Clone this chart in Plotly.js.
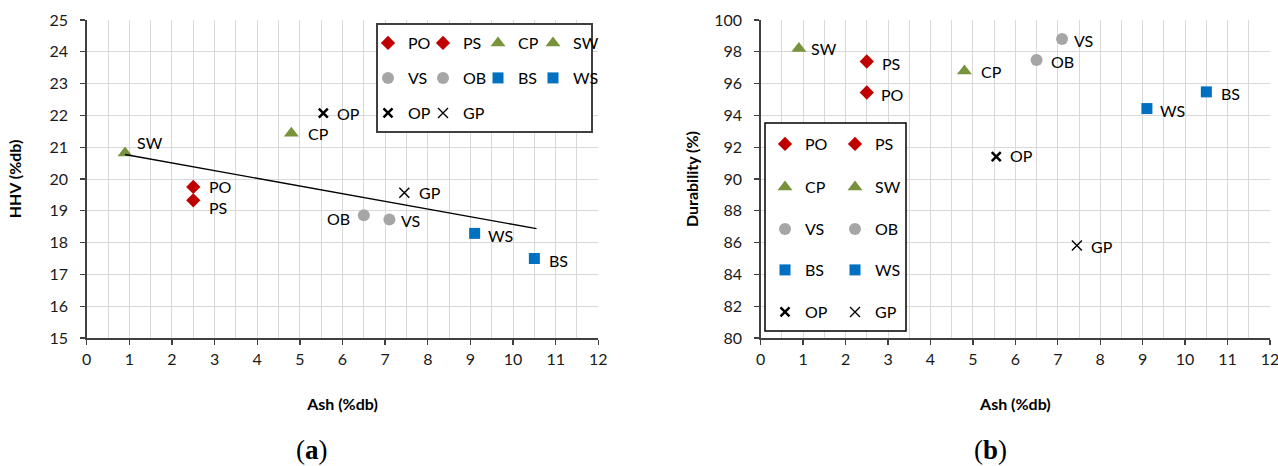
<!DOCTYPE html>
<html>
<head>
<meta charset="utf-8">
<script src="https://cdn.plot.ly/plotly-3.0.1.min.js"></script>
<style>html,body{margin:0;padding:0;background:#fff;}#chart{width:1278px;height:466px;}</style>
</head>
<body>
<div id="chart"></div>
<script>
// ---- data ----
const samples = ['PO', 'PS', 'CP', 'SW', 'VS', 'OB', 'BS', 'WS', 'OP', 'GP'];
const ashPct = [2.5, 2.5, 4.8, 0.9, 7.1, 6.5, 10.5, 9.1, 5.55, 7.45];
const hhvPct = [19.75, 19.33, 21.44, 20.82, 18.73, 18.86, 17.5, 18.29, 22.07, 19.57];
const durabilityPct = [95.44, 97.39, 96.8, 98.21, 98.8, 97.48, 95.48, 94.43, 91.4, 85.82];
const trendAsh = [0.9, 10.55];
const trendHHV = [20.77, 18.44];
const xTickVals = [0, 1, 2, 3, 4, 5, 6, 7, 8, 9, 10, 11, 12];

// ---- styles ----
const W = 1278, H = 466;
const FONT = 'Lato, "Open Sans", sans-serif';
const markerStyle = {
  PO: {symbol: 'diamond', color: '#C00000', size: 11},
  PS: {symbol: 'diamond', color: '#C00000', size: 11},
  CP: {symbol: 'triangle-up', color: '#77933C', size: 13},
  SW: {symbol: 'triangle-up', color: '#77933C', size: 13},
  VS: {symbol: 'circle', color: '#A6A6A6', size: 12},
  OB: {symbol: 'circle', color: '#A6A6A6', size: 12},
  BS: {symbol: 'square', color: '#0070C0', size: 11},
  WS: {symbol: 'square', color: '#0070C0', size: 11},
  OP: {symbol: 'x-thin', color: '#000', size: 9, line: {color: '#000', width: 2.5}},
  GP: {symbol: 'x-thin', color: '#000', size: 10, line: {color: '#000', width: 1.4}}
};
// legend rows (a): 4 per row; (b): 2 per row
const legendA = ['legend', 'legend', 'legend', 'legend', 'legend2', 'legend2', 'legend2', 'legend2', 'legend3', 'legend3'];
const legendB = ['legend4', 'legend4', 'legend5', 'legend5', 'legend6', 'legend6', 'legend7', 'legend7', 'legend8', 'legend8'];
const lastInRowA = {SW: 1, WS: 1, GP: 1};
const lastInRowB = {PS: 1, SW: 1, OB: 1, WS: 1, GP: 1};
// label offsets in px [dx, dy(down)], anchor
const labA = {PO: [14, 0, 'left'], PS: [14, 7, 'left'], CP: [15, 0, 'left'], SW: [10, -10, 'left'], VS: [10, 1, 'left'],
  OB: [-12, 3, 'right'], BS: [13, 2, 'left'], WS: [11, 2, 'left'], OP: [12, 0, 'left'], GP: [13, 0, 'left']};
const labB = {PO: [12, 2, 'left'], PS: [13, 2, 'left'], CP: [15, 1, 'left'], SW: [10, 0, 'left'], VS: [10, 1, 'left'],
  OB: [12, 1, 'left'], BS: [13, 2, 'left'], WS: [11, 2, 'left'], OP: [12, -1, 'left'], GP: [12, 1, 'left']};

const traces = [];
samples.forEach((s, i) => {
  const t = {
    type: 'scatter', mode: 'markers', name: s, x: [ashPct[i]], y: [hhvPct[i]],
    xaxis: 'x', yaxis: 'y', legend: legendA[i], marker: markerStyle[s], cliponaxis: false
  };
  if (lastInRowA[s]) t.legendwidth = 34;
  traces.push(t);
});
traces.push({
  type: 'scatter', mode: 'lines', x: trendAsh, y: trendHHV, xaxis: 'x', yaxis: 'y',
  line: {color: '#000', width: 1.3}, showlegend: false, hoverinfo: 'skip'
});
samples.forEach((s, i) => {
  const t = {
    type: 'scatter', mode: 'markers', name: s, x: [ashPct[i]], y: [durabilityPct[i]],
    xaxis: 'x2', yaxis: 'y2', legend: legendB[i], marker: markerStyle[s], cliponaxis: false
  };
  if (lastInRowB[s]) t.legendwidth = 34;
  traces.push(t);
});

const annotations = [];
samples.forEach((s, i) => {
  const a = labA[s];
  annotations.push({x: ashPct[i], y: hhvPct[i], xref: 'x', yref: 'y', text: s, showarrow: false,
    xanchor: a[2], yanchor: 'middle', xshift: a[0], yshift: -a[1], font: {family: FONT, size: 16, color: '#000'}});
  const b = labB[s];
  annotations.push({x: ashPct[i], y: durabilityPct[i], xref: 'x2', yref: 'y2', text: s, showarrow: false,
    xanchor: b[2], yanchor: 'middle', xshift: b[0], yshift: -b[1], font: {family: FONT, size: 16, color: '#000'}});
});
annotations.push({x: 312 / W, y: 1 - 450 / H, xref: 'paper', yref: 'paper', text: '(<b>a</b>)', showarrow: false,
  xanchor: 'center', yanchor: 'middle', font: {family: '"Liberation Serif", serif', size: 27, color: '#000'}});
annotations.push({x: 990 / W, y: 1 - 450 / H, xref: 'paper', yref: 'paper', text: '(<b>b</b>)', showarrow: false,
  xanchor: 'center', yanchor: 'middle', font: {family: '"Liberation Serif", serif', size: 27, color: '#000'}});

// plot-area pixel geometry
const PA = {l: 86.7, r: 598.3, t: 20, b: 338};
const PB = {l: 760.7, r: 1270, t: 20, b: 338};

const gridCol = '#D9D9D9';
function xAxis(p) {
  return {
    domain: [p.l / W, p.r / W], range: [0, 12], tickvals: xTickVals, showgrid: true, gridcolor: gridCol, gridwidth: 1,
    minor: {dtick: 0.5, tick0: 0, showgrid: true, gridcolor: gridCol, gridwidth: 1, ticks: ''},
    ticks: 'outside', ticklen: 5, tickwidth: 1.3, tickcolor: '#404040', ticklabelstandoff: 1,
    ticklabeloverflow: 'allow',
    showline: true, linecolor: '#404040', linewidth: 1.5, zeroline: false, fixedrange: true,
    tickfont: {family: FONT, size: 16, color: '#1a1a1a'},
    title: {text: 'Ash (%db)', standoff: 32, font: {family: FONT, size: 16, color: '#000', weight: 'bold'}}
  };
}
function yAxis(p, range, dtick, title, standoff, anchor) {
  return {
    domain: [1 - p.b / H, 1 - p.t / H], range: range, dtick: dtick, tick0: range[0], anchor: anchor,
    showgrid: true, gridcolor: gridCol, gridwidth: 1,
    ticks: 'outside', ticklen: 5, tickwidth: 1.3, tickcolor: '#404040', ticklabelstandoff: 9,
    ticklabeloverflow: 'allow',
    showline: true, linecolor: '#404040', linewidth: 1.5, zeroline: false, fixedrange: true,
    tickfont: {family: FONT, size: 16, color: '#1a1a1a'},
    title: {text: title, standoff: standoff, font: {family: FONT, size: 16, color: '#000', weight: 'bold'}}
  };
}
function legendRow(xpx, ypx, ew) {
  return {x: xpx / W, y: 1 - ypx / H, xanchor: 'left', yanchor: 'middle', orientation: 'h',
    entrywidth: ew, entrywidthmode: 'pixels', bgcolor: 'rgba(0,0,0,0)', borderwidth: 0,
    font: {family: FONT, size: 16, color: '#000'}, traceorder: 'normal', itemclick: false, itemdoubleclick: false};
}
// legend frame: pixel box -> axis units of its subplot
function frame(p, xr, yr, box, xref, yref, color, width) {
  const fx = v => xr[0] + (v - p.l) / (p.r - p.l) * (xr[1] - xr[0]);
  const fy = v => yr[0] + (p.b - v) / (p.b - p.t) * (yr[1] - yr[0]);
  return {type: 'rect', xref: xref, yref: yref, layer: 'between',
    x0: fx(box[0]), x1: fx(box[2]), y0: fy(box[3]), y1: fy(box[1]),
    fillcolor: '#fff', line: {color: color, width: width}};
}

const layout = {
  width: W, height: H, paper_bgcolor: '#fff', plot_bgcolor: '#fff',
  margin: {l: 0, r: 0, t: 0, b: 0, autoexpand: false},
  showlegend: true,
  xaxis: Object.assign(xAxis(PA), {anchor: 'y'}),
  yaxis: yAxis(PA, [15, 25], 1, 'HHV (%db)', 24, 'x'),
  xaxis2: Object.assign(xAxis(PB), {anchor: 'y2'}),
  yaxis2: yAxis(PB, [80, 100], 2, 'Durability (%)', 11, 'x2'),
  legend: legendRow(368, 43, 10),
  legend2: legendRow(368, 78, 10),
  legend3: legendRow(368, 113, 10),
  legend4: legendRow(765, 144, 25),
  legend5: legendRow(765, 187, 25),
  legend6: legendRow(765, 229, 25),
  legend7: legendRow(765, 270, 25),
  legend8: legendRow(765, 312, 25),
  shapes: [
    frame(PA, [0, 12], [15, 25], [377, 24, 592, 132], 'x', 'y', '#404040', 2),
    frame(PB, [0, 12], [80, 100], [765, 123, 906, 331], 'x2', 'y2', '#000', 1.5)
  ],
  annotations: annotations
};

Plotly.newPlot('chart', traces, layout, {staticPlot: true, displayModeBar: false});
</script>
</body>
</html>
